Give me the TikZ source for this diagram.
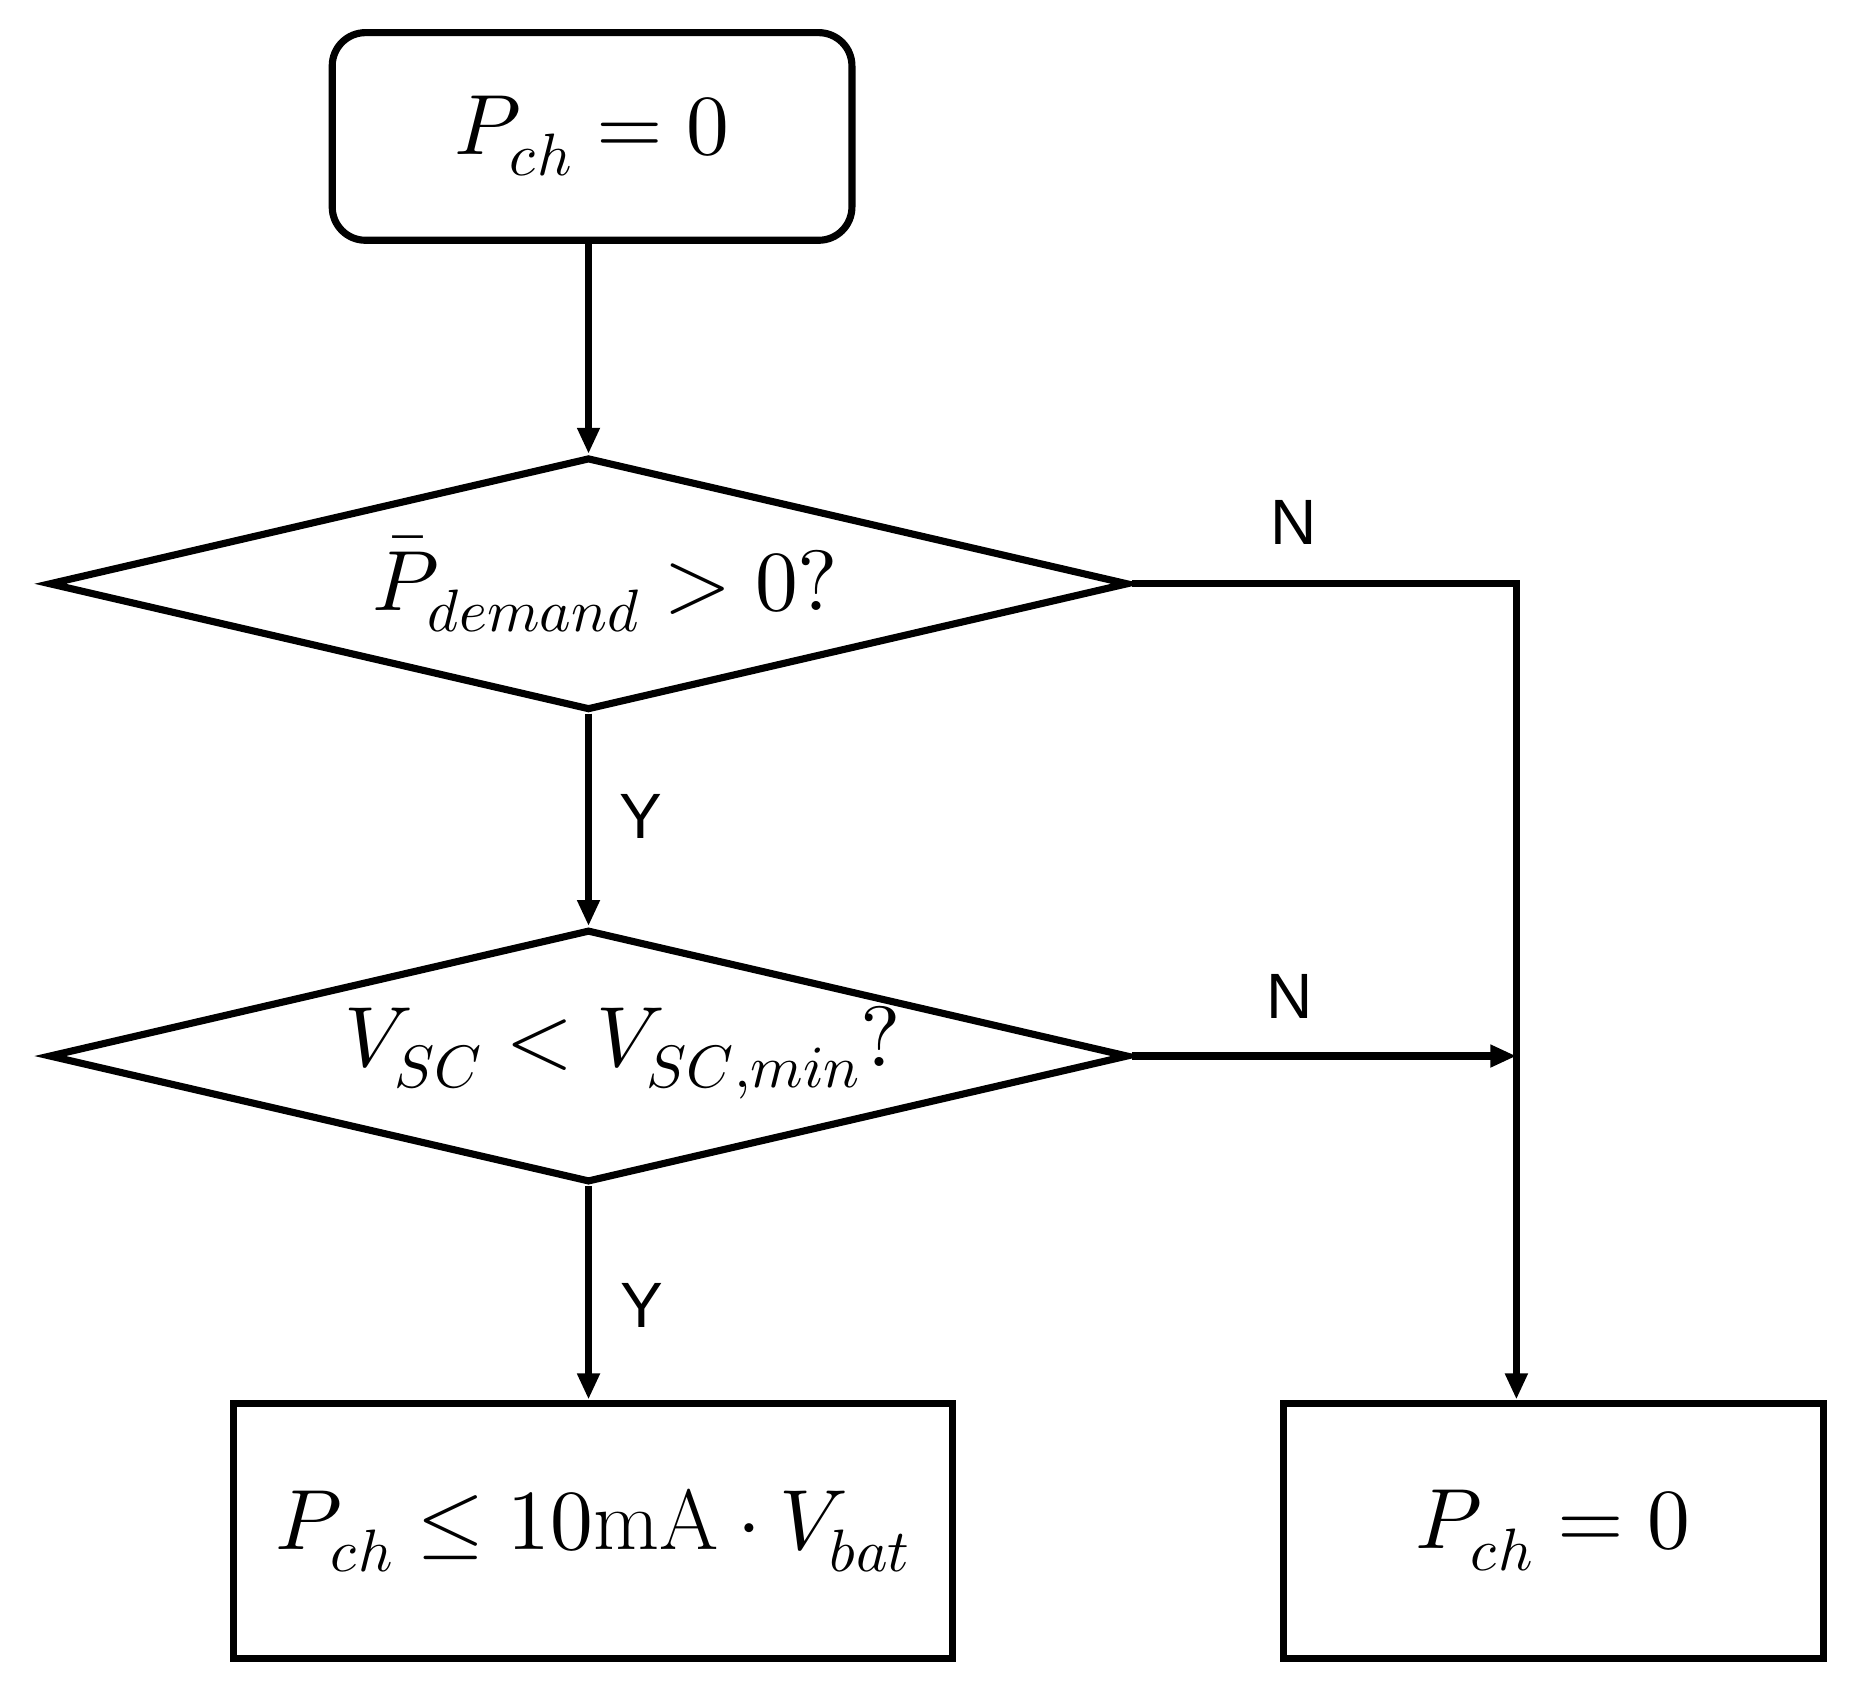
\documentclass[tikz,border=0pt]{standalone}
\usepackage{unicode-math}
\setmathfont{Latin Modern Math}
\newfontfamily\lab{Liberation Sans}
\usetikzlibrary{shapes.geometric,arrows.meta}
\begin{document}
\begin{tikzpicture}[x=0.5pt,y=-0.5pt,
  ln/.style={line width=3pt},
  arr/.style={ln,-{Triangle[length=11pt,width=9pt]}},
  txt/.style={font=\fontsize{36}{40}\selectfont},
  lbl/.style={font=\lab\fontsize{27}{30}\selectfont}]
\useasboundingbox (0,0) rectangle (1560,1425);
\node[ln,draw,rounded corners=14pt,minimum width=219pt,minimum height=87.5pt,txt] (start) at (499,115) {$P_{ch}=0$};
\node[ln,draw,diamond,aspect=4.27,minimum width=455pt,minimum height=106.5pt,inner sep=0pt] (d1) at (496,492) {};
\node[txt] at (510,492) {$\bar P_{demand}>0?$};
\node[ln,draw,diamond,aspect=4.27,minimum width=455pt,minimum height=106.5pt,inner sep=0pt] (d2) at (496,890) {};
\node[txt] at (525,887) {$V_{SC}<V_{SC,min}?$};
\node[ln,draw,minimum width=303pt,minimum height=107.5pt,txt] (b1) at (500,1290) {$P_{ch}\le 10\mathrm{mA}\cdot V_{bat}$};
\node[ln,draw,minimum width=227.5pt,minimum height=107.5pt,txt] (b2) at (1309,1290) {$P_{ch}=0$};
\coordinate (c1) at (1278,492);
\coordinate (c2) at (1278,890);
\draw[arr] (start.south -| d1.north) -- (d1.north);
\draw[arr] (d1.south) -- (d2.north);
\draw[arr] (d2.south) -- (d2.south |- b1.north);
\draw[arr] (d1.east) -- (c1) -- (c1 |- b2.north);
\draw[arr] (d2.east) -- (c2);
\node[lbl] at (1090,440) {N};
\node[lbl] at (1087,840) {N};
\node[lbl] at (540,688) {Y};
\node[lbl] at (541,1100) {Y};
\end{tikzpicture}
\end{document}
